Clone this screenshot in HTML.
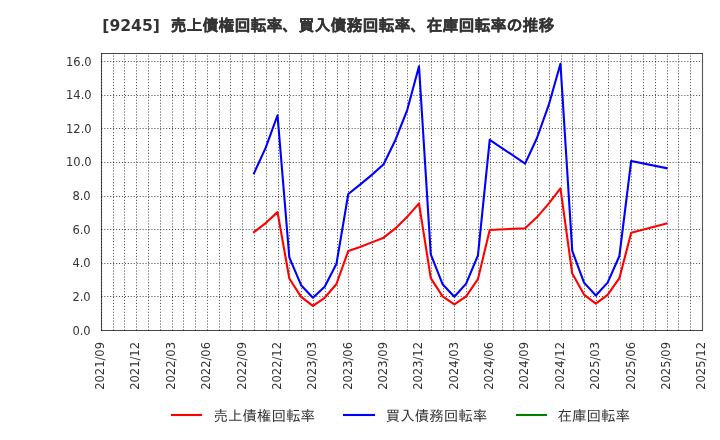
<!DOCTYPE html>
<html><head><meta charset="utf-8"><style>
html,body{margin:0;padding:0;background:#fff;}
svg{display:block;}
.t{font-family:"DejaVu Sans",sans-serif;font-size:11.5px;fill:#333;}
.tl{font-family:"DejaVu Sans","IPAGothic",sans-serif;font-size:15.6px;font-weight:bold;fill:#333;}
.tc{font-family:"DejaVu Sans","IPAGothic",sans-serif;font-size:16px;font-weight:bold;fill:#333;}
.lg{font-family:"DejaVu Sans","IPAGothic",sans-serif;font-size:14.5px;fill:#333;}
</style></head><body>
<svg style="will-change:transform" width="720" height="440" viewBox="0 0 720 440">
<rect width="720" height="440" fill="#fff"/>
<text class="tl" x="102.3" y="31">[9245]</text>
<text class="tc" x="170.6" y="30.6" stroke="#333" stroke-width="0.15">売上債権回転率、買入債務回転率、在庫回転率の推移</text>
<g stroke="rgba(0,0,0,0.667)" stroke-width="1.0" stroke-dasharray="1.1111 1.8333" stroke-dashoffset="0.0" fill="none">
<line x1="101.5" y1="330.5" x2="101.5" y2="53.2"/>
<line x1="113.5" y1="330.5" x2="113.5" y2="53.2"/>
<line x1="124.5" y1="330.5" x2="124.5" y2="53.2"/>
<line x1="136.5" y1="330.5" x2="136.5" y2="53.2"/>
<line x1="148.5" y1="330.5" x2="148.5" y2="53.2"/>
<line x1="160.5" y1="330.5" x2="160.5" y2="53.2"/>
<line x1="172.5" y1="330.5" x2="172.5" y2="53.2"/>
<line x1="183.5" y1="330.5" x2="183.5" y2="53.2"/>
<line x1="195.5" y1="330.5" x2="195.5" y2="53.2"/>
<line x1="207.5" y1="330.5" x2="207.5" y2="53.2"/>
<line x1="219.5" y1="330.5" x2="219.5" y2="53.2"/>
<line x1="230.5" y1="330.5" x2="230.5" y2="53.2"/>
<line x1="242.5" y1="330.5" x2="242.5" y2="53.2"/>
<line x1="254.5" y1="330.5" x2="254.5" y2="53.2"/>
<line x1="266.5" y1="330.5" x2="266.5" y2="53.2"/>
<line x1="278.5" y1="330.5" x2="278.5" y2="53.2"/>
<line x1="289.5" y1="330.5" x2="289.5" y2="53.2"/>
<line x1="301.5" y1="330.5" x2="301.5" y2="53.2"/>
<line x1="313.5" y1="330.5" x2="313.5" y2="53.2"/>
<line x1="325.5" y1="330.5" x2="325.5" y2="53.2"/>
<line x1="337.5" y1="330.5" x2="337.5" y2="53.2"/>
<line x1="348.5" y1="330.5" x2="348.5" y2="53.2"/>
<line x1="360.5" y1="330.5" x2="360.5" y2="53.2"/>
<line x1="372.5" y1="330.5" x2="372.5" y2="53.2"/>
<line x1="384.5" y1="330.5" x2="384.5" y2="53.2"/>
<line x1="396.5" y1="330.5" x2="396.5" y2="53.2"/>
<line x1="407.5" y1="330.5" x2="407.5" y2="53.2"/>
<line x1="419.5" y1="330.5" x2="419.5" y2="53.2"/>
<line x1="431.5" y1="330.5" x2="431.5" y2="53.2"/>
<line x1="443.5" y1="330.5" x2="443.5" y2="53.2"/>
<line x1="454.5" y1="330.5" x2="454.5" y2="53.2"/>
<line x1="466.5" y1="330.5" x2="466.5" y2="53.2"/>
<line x1="478.5" y1="330.5" x2="478.5" y2="53.2"/>
<line x1="490.5" y1="330.5" x2="490.5" y2="53.2"/>
<line x1="502.5" y1="330.5" x2="502.5" y2="53.2"/>
<line x1="513.5" y1="330.5" x2="513.5" y2="53.2"/>
<line x1="525.5" y1="330.5" x2="525.5" y2="53.2"/>
<line x1="537.5" y1="330.5" x2="537.5" y2="53.2"/>
<line x1="549.5" y1="330.5" x2="549.5" y2="53.2"/>
<line x1="561.5" y1="330.5" x2="561.5" y2="53.2"/>
<line x1="572.5" y1="330.5" x2="572.5" y2="53.2"/>
<line x1="584.5" y1="330.5" x2="584.5" y2="53.2"/>
<line x1="596.5" y1="330.5" x2="596.5" y2="53.2"/>
<line x1="608.5" y1="330.5" x2="608.5" y2="53.2"/>
<line x1="620.5" y1="330.5" x2="620.5" y2="53.2"/>
<line x1="631.5" y1="330.5" x2="631.5" y2="53.2"/>
<line x1="643.5" y1="330.5" x2="643.5" y2="53.2"/>
<line x1="655.5" y1="330.5" x2="655.5" y2="53.2"/>
<line x1="667.5" y1="330.5" x2="667.5" y2="53.2"/>
<line x1="678.5" y1="330.5" x2="678.5" y2="53.2"/>
<line x1="690.5" y1="330.5" x2="690.5" y2="53.2"/>
<line x1="101.34" y1="61.5" x2="702.4" y2="61.5"/>
<line x1="101.34" y1="95.5" x2="702.4" y2="95.5"/>
<line x1="101.34" y1="128.5" x2="702.4" y2="128.5"/>
<line x1="101.34" y1="162.5" x2="702.4" y2="162.5"/>
<line x1="101.34" y1="196.5" x2="702.4" y2="196.5"/>
<line x1="101.34" y1="229.5" x2="702.4" y2="229.5"/>
<line x1="101.34" y1="263.5" x2="702.4" y2="263.5"/>
<line x1="101.34" y1="296.5" x2="702.4" y2="296.5"/>
</g>
<g stroke-width="1.11" fill="none">
<line x1="101.5" y1="53.5" x2="101.5" y2="330.5" stroke="rgba(0,0,0,0.66)"/>
<line x1="702.5" y1="53.5" x2="702.5" y2="330.5" stroke="rgba(0,0,0,0.66)"/>
<line x1="100.95" y1="53.5" x2="703.05" y2="53.5" stroke="rgba(0,0,0,0.72)"/>
<line x1="100.95" y1="330.5" x2="703.05" y2="330.5" stroke="rgba(0,0,0,0.72)"/>
</g>
<g class="t">
<text x="72.4" y="334.8">0.0</text>
<text x="72.4" y="300.8">2.0</text>
<text x="72.4" y="266.8">4.0</text>
<text x="72.4" y="233.8">6.0</text>
<text x="72.4" y="199.8">8.0</text>
<text x="66.0" y="165.8">10.0</text>
<text x="66.0" y="132.8">12.0</text>
<text x="66.0" y="98.8">14.0</text>
<text x="66.0" y="65.8">16.0</text>
<text transform="translate(104.44,342) rotate(-90)" text-anchor="end">2021/09</text>
<text transform="translate(139.44,342) rotate(-90)" text-anchor="end">2021/12</text>
<text transform="translate(175.44,342) rotate(-90)" text-anchor="end">2022/03</text>
<text transform="translate(210.44,342) rotate(-90)" text-anchor="end">2022/06</text>
<text transform="translate(246.44,342) rotate(-90)" text-anchor="end">2022/09</text>
<text transform="translate(281.44,342) rotate(-90)" text-anchor="end">2022/12</text>
<text transform="translate(316.44,342) rotate(-90)" text-anchor="end">2023/03</text>
<text transform="translate(352.44,342) rotate(-90)" text-anchor="end">2023/06</text>
<text transform="translate(387.44,342) rotate(-90)" text-anchor="end">2023/09</text>
<text transform="translate(422.44,342) rotate(-90)" text-anchor="end">2023/12</text>
<text transform="translate(458.44,342) rotate(-90)" text-anchor="end">2024/03</text>
<text transform="translate(493.44,342) rotate(-90)" text-anchor="end">2024/06</text>
<text transform="translate(528.44,342) rotate(-90)" text-anchor="end">2024/09</text>
<text transform="translate(564.44,342) rotate(-90)" text-anchor="end">2024/12</text>
<text transform="translate(599.44,342) rotate(-90)" text-anchor="end">2025/03</text>
<text transform="translate(635.44,342) rotate(-90)" text-anchor="end">2025/06</text>
<text transform="translate(670.44,342) rotate(-90)" text-anchor="end">2025/09</text>
<text transform="translate(705.44,342) rotate(-90)" text-anchor="end">2025/12</text>
</g>
<g fill="none" stroke-width="2.1" stroke-linejoin="round" stroke-linecap="square">
<polyline stroke="#ff0000" points="253.96,232.11 265.74,223.05 277.53,212.13 289.32,278.45 301.11,296.92 312.90,305.82 324.69,297.76 336.48,284.00 348.27,250.92 360.05,247.06 371.84,242.36 383.63,237.66 395.42,228.42 407.21,216.84 419.00,203.40 430.79,278.12 442.57,296.42 454.36,304.48 466.15,296.42 477.94,279.13 489.73,229.93 525.09,228.25 536.88,217.34 548.67,203.57 560.46,188.46 572.25,273.59 584.04,294.57 595.83,303.64 607.62,294.91 619.40,278.12 631.19,232.79 666.56,223.55"/>
<polyline stroke="#0000ff" points="253.96,173.35 265.74,147.66 277.53,115.26 289.32,257.30 301.11,285.17 312.90,297.76 324.69,286.85 336.48,263.68 348.27,194.00 360.05,184.60 371.84,174.86 383.63,164.28 395.42,139.94 407.21,110.05 419.00,66.23 430.79,254.44 442.57,284.16 454.36,296.76 466.15,283.66 477.94,255.45 489.73,139.77 525.09,163.61 536.88,138.26 548.67,105.18 560.46,63.71 572.25,250.92 584.04,282.65 595.83,295.58 607.62,282.65 619.40,255.96 631.19,160.92 666.56,168.14"/>
</g>
<g stroke-width="2.1">
<line x1="171" y1="415" x2="202" y2="415" stroke="#ff0000"/>
<line x1="343" y1="415" x2="375" y2="415" stroke="#0000ff"/>
<line x1="516" y1="415" x2="547" y2="415" stroke="#008000"/>
</g>
<g class="lg">
<text x="213.5" y="420.5">売上債権回転率</text>
<text x="385.8" y="420.5">買入債務回転率</text>
<text x="557.6" y="420.5">在庫回転率</text>
</g>
</svg>
</body></html>
